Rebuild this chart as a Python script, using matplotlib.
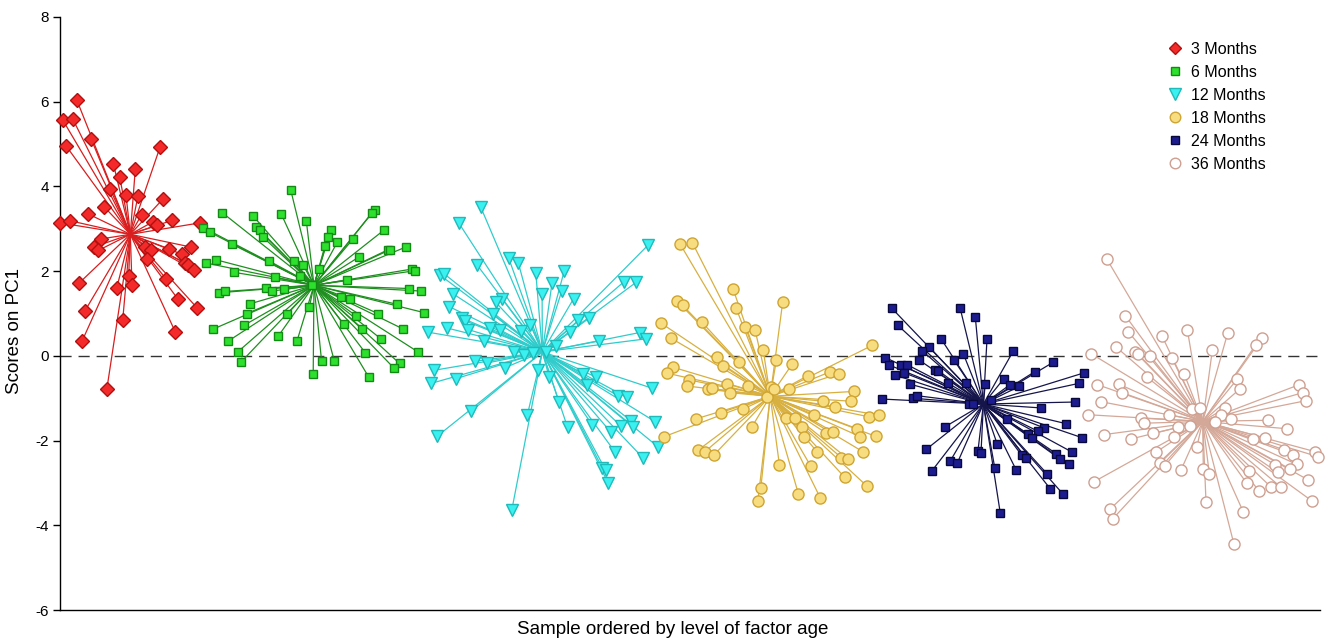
import matplotlib
matplotlib.use("Agg")
import matplotlib.pyplot as plt
from matplotlib.lines import Line2D
import numpy as np

plt.rcParams['font.family'] = ['Liberation Sans', 'DejaVu Sans']

# ---- data: sample position (x) and score on PC1 (y) per age class ----
labels = ["3 Months", "6 Months", "12 Months", "18 Months", "24 Months", "36 Months"]

m3_x = [5.6, 0.9, 4.2, 10.4, 2.0, 33.3, 17.8, 25.1, 19.9, 16.7, 22.0, 26.0, 34.4, 14.7, 9.4, 27.2,
        0.0, 3.3, 31.1, 32.2, 37.4, 46.7, 13.6, 11.3, 12.8, 28.2, 30.3, 36.2, 43.6, 29.1, 40.6, 41.7,
        42.8, 44.7, 22.9, 35.3, 6.4, 18.9, 24.0, 39.3, 8.3, 45.6, 20.9, 38.4, 7.3, 15.6]
m3_y = [6.04, 5.57, 5.60, 5.12, 4.96, 4.92, 4.53, 4.41, 4.23, 3.94, 3.80, 3.78, 3.71, 3.52, 3.35, 3.33,
        3.14, 3.19, 3.17, 3.08, 3.20, 3.14, 2.76, 2.57, 2.49, 2.58, 2.50, 2.53, 2.57, 2.29, 2.40, 2.19,
        2.15, 2.02, 1.89, 1.82, 1.72, 1.60, 1.68, 1.34, 1.06, 1.14, 0.84, 0.57, 0.34, -0.79]

m6_x = [76.9, 54.1, 64.4, 73.8, 82.1, 47.7, 49.9, 65.3, 66.7, 67.6, 57.2, 69.7, 77.9, 81.1, 51.9, 48.8,
        58.1, 80.0, 71.7, 83.9, 68.6, 70.7, 74.8, 53.0, 55.0, 63.4, 83.1, 62.3, 75.8, 61.3, 51.0, 72.8,
        79.0, 56.1, 59.2, 60.3, 84.4,
        104.9, 103.9, 108.0, 90.3, 89.4, 92.4, 97.8, 88.3, 115.3, 109.2, 110.1, 99.8, 86.3, 117.4, 118.3,
        95.6, 116.4, 120.4, 93.6, 96.7, 112.2, 106.0, 121.4, 98.8, 94.6, 100.8, 114.2, 107.0, 101.8, 119.4,
        87.2, 91.4, 113.2, 111.2, 102.9]
m6_y = [3.92, 3.38, 3.30, 3.34, 3.19, 3.03, 2.92, 3.04, 2.96, 2.81, 2.64, 2.24, 2.24, 2.14, 2.27, 2.19,
        1.97, 1.88, 1.85, 1.68, 1.60, 1.53, 1.57, 1.49, 1.52, 1.23, 1.15, 1.00, 0.99, 0.72, 0.63, 0.47,
        0.35, 0.35, 0.09, -0.15, -0.43,
        3.45, 3.37, 2.97, 2.97, 2.81, 2.68, 2.77, 2.59, 2.57, 2.50, 2.51, 2.34, 2.05, 2.05, 2.01,
        1.79, 1.59, 1.53, 1.38, 1.34, 1.22, 1.00, 1.02, 0.94, 0.75, 0.64, 0.64, 0.40, 0.07, 0.09,
        -0.13, -0.11, -0.18, -0.28, -0.50]

m12_x = [140.2, 132.9, 149.6, 152.8, 139.1, 158.6, 126.6, 128.0, 130.9, 147.4, 145.3, 129.8, 144.4, 134.0,
         135.0, 136.1, 128.9, 122.6, 143.2, 146.7, 153.6, 156.8, 141.3, 151.4, 154.8, 157.8, 138.3, 142.2,
         148.3, 124.7, 123.7, 131.9, 159.2, 137.0, 125.7, 155.8, 150.6,
         196.1, 168.1, 164.0, 160.7, 167.2, 171.2, 188.0, 192.1, 172.8, 176.4, 170.0, 193.2, 195.2, 179.7,
         165.2, 161.9, 163.1, 174.4, 178.6, 175.6, 197.2, 185.9, 189.0, 166.3, 169.2, 177.4, 183.6, 186.9,
         190.3, 191.1, 198.3, 199.2, 184.9, 194.2, 180.8, 181.9, 182.8]
m12_y = [3.52, 3.14, 2.30, 2.19, 2.14, 1.96, 1.91, 1.94, 1.47, 1.34, 1.26, 1.16, 0.98, 0.89,
         0.83, 0.62, 0.66, 0.56, 0.65, 0.61, 0.59, 0.73, 0.36, 0.09, 0.01, 0.06, -0.13, -0.17,
         -0.28, -0.34, -0.65, -0.54, -0.34, -1.31, -1.90, -1.39, -3.64,
         2.62, 2.01, 1.72, 1.46, 1.52, 1.35, 1.75, 1.74, 0.84, 0.89, 0.56, 0.55, 0.40, 0.35,
         0.24, 0.09, -0.51, -0.42, -0.50, -0.68, -0.76, -0.94, -0.98, -1.08, -1.69, -1.63, -1.80, -1.65,
         -1.53, -1.69, -1.55, -2.14, -2.26, -2.40, -2.65, -2.70, -3.01]

m18_x = [206.7, 210.8, 224.4, 225.3, 205.6, 207.6, 213.9, 200.4, 228.4, 231.7, 203.6, 234.4, 219.1, 226.3,
         221.1, 204.4, 202.4, 209.8, 208.9, 216.0, 217.2, 222.2, 223.3, 229.4, 235.6, 227.6, 220.2, 211.9,
         201.3, 230.7, 212.8, 215.0, 218.1, 233.6, 232.6,
         240.9, 270.8, 238.8, 244.0, 249.2, 256.6, 259.6, 237.0, 238.0, 243.0, 264.7, 254.4, 263.6, 258.4,
         251.3, 241.9, 245.1, 269.7, 273.0, 247.2, 255.3, 257.6, 265.7, 248.1, 266.8, 271.9, 252.3, 267.8,
         260.4, 262.8, 239.8, 250.3, 261.6, 268.9, 246.1, 253.4]
m18_y = [2.64, 2.67, 1.57, 1.14, 1.30, 1.19, 0.80, 0.77, 0.69, 0.61, 0.42, 0.14, -0.02, -0.14,
         -0.24, -0.27, -0.41, -0.57, -0.71, -0.79, -0.77, -0.66, -0.87, -0.71, -0.97, -1.26, -1.34, -1.49,
         -1.91, -1.67, -2.22, -2.26, -2.33, -3.13, -3.43,
         1.27, 0.25, -0.10, -0.20, -0.47, -0.38, -0.42, -0.74, -0.79, -0.79, -0.84, -1.07, -1.07, -1.20,
         -1.39, -1.46, -1.46, -1.44, -1.40, -1.67, -1.82, -1.79, -1.72, -1.92, -1.91, -1.90, -2.26, -2.27,
         -2.40, -2.44, -2.57, -2.61, -2.87, -3.07, -3.25, -3.35]

m24_x = [277.2, 300.0, 305.1, 279.3, 293.8, 309.0, 289.7, 287.4, 301.1, 275.1, 286.4, 298.0, 276.2, 280.3,
         282.4, 291.7, 292.8, 278.2, 281.4, 295.9, 302.1, 283.4, 274.0, 284.3, 285.6, 302.9, 304.2, 294.9,
         288.7, 306.0, 307.0, 296.7, 299.1, 290.7,
         317.8, 331.1, 325.0, 341.4, 314.6, 308.4, 316.7, 319.8, 339.6, 310.3, 338.4, 327.1, 315.7, 335.3,
         328.0, 326.0, 322.8, 324.1, 340.6, 312.4, 337.3, 332.1, 320.6, 321.9, 333.4, 336.3, 311.6, 318.7,
         329.1, 330.1, 334.3, 313.4]
m24_y = [1.13, 1.14, 0.92, 0.72, 0.39, 0.39, 0.21, 0.12, 0.05, -0.04, -0.10, -0.10, -0.21, -0.21,
         -0.21, -0.34, -0.35, -0.45, -0.40, -0.64, -0.65, -0.67, -1.02, -1.00, -0.94, -1.14, -1.13, -1.68,
         -2.21, -2.24, -2.29, -2.49, -2.53, -2.71,
         0.12, -0.15, -0.37, -0.40, -0.54, -0.67, -0.68, -0.72, -0.65, -1.05, -1.09, -1.23, -1.49, -1.60,
         -1.70, -1.78, -1.85, -1.93, -1.93, -2.08, -2.27, -2.31, -2.35, -2.40, -2.44, -2.56, -2.65, -2.69,
         -2.79, -3.14, -3.26, -3.70]

m36_x = [348.9, 355.1, 356.1, 367.4, 375.8, 352.0, 343.7, 358.3, 359.4, 363.4, 370.7, 362.3, 374.8, 345.8,
         353.0, 354.1, 346.9, 342.7, 369.7, 360.3, 361.3, 377.4, 372.8, 376.7, 347.9, 364.4, 371.3, 357.1,
         378.9, 365.4, 366.7, 368.3, 373.7, 344.7, 350.0, 350.9,
         389.2, 400.7, 398.6, 384.1, 392.4, 393.3, 413.1, 414.2, 415.2, 380.0, 388.2, 387.0, 390.3, 402.8,
         385.0, 408.9, 397.6, 401.8, 408.1, 411.1, 418.3, 419.3, 405.0, 412.2, 410.0, 405.9, 381.1, 383.1,
         396.4, 416.1, 395.6, 399.6, 403.7, 407.0, 417.2, 382.0, 394.4, 391.3]
m36_y = [2.29, 0.95, 0.57, 0.46, 0.61, 0.21, 0.05, 0.10, 0.04, 0.00, -0.06, -0.50, -0.44, -0.68,
         -0.67, -0.87, -1.08, -1.39, -1.39, -1.47, -1.59, -1.25, -1.68, -1.65, -1.86, -1.83, -1.91, -1.96,
         -2.16, -2.27, -2.53, -2.59, -2.69, -2.97, -3.62, -3.85,
         0.53, 0.42, 0.26, 0.13, -0.55, -0.78, -0.68, -0.87, -1.06, -1.23, -1.24, -1.39, -1.49, -1.52,
         -1.57, -1.72, -1.96, -1.94, -2.22, -2.34, -2.26, -2.38, -2.57, -2.56, -2.67, -2.75, -2.67, -2.78,
         -2.71, -2.93, -3.01, -3.18, -3.10, -3.10, -3.42, -3.45, -3.68, -4.44]

yticks = [-6, -4, -2, 0, 2, 4, 6, 8]

groups = [(m3_x, m3_y), (m6_x, m6_y), (m12_x, m12_y), (m18_x, m18_y), (m24_x, m24_y), (m36_x, m36_y)]

# ---- styles ----
styles = [
    dict(marker='D', ms=6.8, mfc='#f42a2a', mec='#b01010', line='#d81e1e'),
    dict(marker='s', ms=6.4, mfc='#2ee02e', mec='#138a13', line='#1e8f1e'),
    dict(marker='v', ms=9.0, mfc='#3af0f0', mec='#1fbaba', line='#30cccc'),
    dict(marker='o', ms=8.0, mfc='#f8dc80', mec='#cfa532', line='#d8b040'),
    dict(marker='s', ms=6.2, mfc='#1c1c90', mec='#08083a', line='#15154c'),
    dict(marker='o', ms=8.0, mfc='#ffffff', mec='#cf9f90', line='#d4a898'),
]

fig = plt.figure(figsize=(13.25, 6.4), dpi=100)
ax = fig.add_axes([60 / 1325, 30 / 640, 1260 / 1325, 593 / 640])

ax.axhline(0, color='#333333', lw=1.0, dashes=(8, 5), zorder=1)

handles = []
for i, ((gx, gy), st) in enumerate(zip(groups, styles)):
    gx = np.asarray(gx, float)
    gy = np.asarray(gy, float)
    cx, cy = gx.mean(), gy.mean()
    for x, y in zip(gx, gy):
        ax.plot([cx, x], [cy, y], color=st['line'], lw=0.9, zorder=2 + 2 * i, clip_on=False)
    ax.plot(gx, gy, ls='none', marker=st['marker'], ms=st['ms'], mfc=st['mfc'], mec=st['mec'],
            mew=1.0, zorder=3 + 2 * i, clip_on=False)
    handles.append(Line2D([], [], ls='none', marker=st['marker'], ms=st['ms'] * 0.95,
                          mfc=st['mfc'], mec=st['mec'], mew=1.0))

ax.set_xlim(0, 420)
ax.set_ylim(-6, 8)
ax.set_yticks(yticks)
ax.set_yticklabels([str(t) for t in yticks])
ax.set_xticks([])
ax.tick_params(axis='y', direction='out', length=5, width=1, labelsize=11, pad=3)
for s in ['top', 'right']:
    ax.spines[s].set_visible(False)
for s in ['left', 'bottom']:
    ax.spines[s].set_linewidth(1.0)
    ax.spines[s].set_color('black')

ax.set_xlabel("Sample ordered by level of factor age", fontsize=13.5)
ax.xaxis.set_label_coords((673 - 60) / 1260, -0.019)
ax.set_ylabel("Scores on PC1", fontsize=13.5)
ax.yaxis.set_label_coords(-0.029, 0.47)

leg = ax.legend(handles, labels, loc='upper left', bbox_to_anchor=(1159 / 1325, 1 - 34 / 640),
                bbox_transform=fig.transFigure, frameon=False, fontsize=11.5, handlelength=1.0,
                handletextpad=0.5, labelspacing=0.5, borderpad=0)

fig.savefig("out.png", dpi=100)
